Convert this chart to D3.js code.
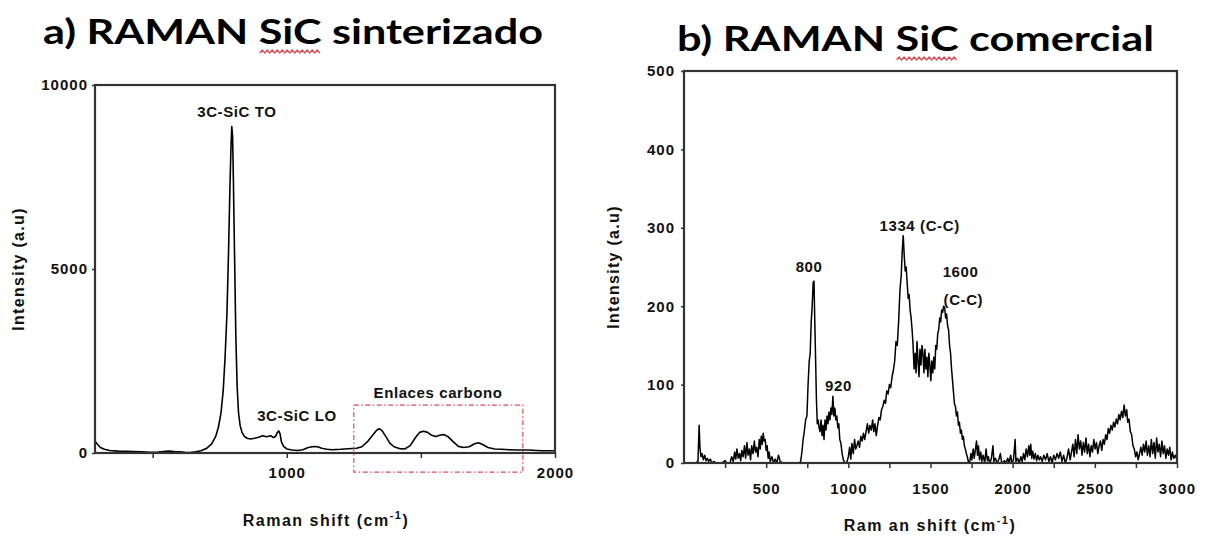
<!DOCTYPE html>
<html>
<head>
<meta charset="utf-8">
<script src="https://cdn.jsdelivr.net/npm/d3@7"></script>
<style>
  body { margin: 0; background: #fff; }
  svg { display: block; }
  text { font-family: "Liberation Sans", Arial, sans-serif; }
</style>
</head>
<body>
<svg id="chart" width="1206" height="538"></svg>
<script>
// ---- Spectrum a: sintered SiC, [Raman shift cm-1, intensity a.u.] ----
const sinterizadoSpectrum = [
  [285,320],[295,230],[305,150],[320,100],[340,70],[370,50],[400,45],[430,40],[460,30],[490,20],
  [520,25],[540,40],[560,55],[580,40],[600,30],[620,20],[640,15],[660,30],[680,60],[700,120],
  [720,250],[735,450],[745,700],[755,1100],[763,1700],[770,2600],[777,3800],[783,5500],[788,7200],
  [792,8300],[795,8870],[798,8600],[801,7400],[805,5500],[810,3200],[815,1800],[820,1100],[826,750],
  [833,560],[842,450],[852,400],[865,380],[880,400],[895,430],[910,470],[925,440],[940,470],[950,420],
  [958,450],[965,560],[970,600],[975,520],[980,300],[988,180],[1000,110],[1020,80],[1040,70],[1060,90],
  [1080,150],[1100,175],[1115,170],[1130,130],[1150,100],[1170,90],[1200,100],[1230,115],[1260,130],
  [1280,170],[1300,300],[1320,480],[1335,620],[1345,660],[1355,610],[1370,440],[1385,260],[1400,170],
  [1420,120],[1440,110],[1460,200],[1480,420],[1495,560],[1510,590],[1525,560],[1540,480],[1555,450],
  [1570,480],[1585,500],[1600,450],[1620,310],[1640,180],[1660,150],[1680,170],[1700,250],[1715,280],
  [1730,230],[1750,150],[1775,110],[1800,100],[1830,90],[1860,80],[1900,80],[1950,60],[2000,60]
];

// ---- Spectrum b: commercial SiC, [Raman shift cm-1, intensity a.u.] ----
const comercialSpectrum = [
  [70,0],[85,2],[92,48],[97,20],[103,8],[110,12],[118,4],[126,10],[134,3],[142,6],[150,2],[160,5],
  [170,0],[180,2],[195,0],[230,0],[250,3],[260,0],[280,0],[290,8],[300,2],[308,14],[315,5],[322,18],
  [330,6],[338,12],[345,3],[352,16],[360,8],[368,22],[375,6],[383,26],[390,10],[398,18],[405,4],
  [412,22],[420,12],[428,28],[435,14],[442,20],[450,8],[458,30],[464,18],[470,34],[476,24],[482,38],
  [488,28],[494,30],[500,16],[506,22],[512,6],[518,14],[525,2],[535,8],[545,0],[555,5],[565,0],
  [575,10],[585,2],[600,0],[700,0],[710,2],[718,15],[725,30],[732,40],[740,55],[748,60],[755,100],
  [762,130],[768,140],[774,180],[780,200],[786,230],[791,232],[796,180],[801,130],[806,80],[811,50],
  [816,55],[822,45],[828,40],[834,55],[840,35],[846,48],[852,30],[858,55],[864,42],[870,60],[876,50],
  [882,65],[888,55],[894,70],[900,62],[906,85],[912,60],[918,70],[924,55],[930,60],[936,45],[942,50],
  [948,30],[955,25],[962,12],[970,4],[980,0],[990,0],[1000,8],[1008,20],[1015,5],[1022,25],[1030,12],
  [1038,30],[1045,18],[1052,22],[1060,28],[1068,20],[1076,34],[1084,28],[1092,38],[1100,30],[1108,40],
  [1116,50],[1124,38],[1132,48],[1140,42],[1148,55],[1155,40],[1162,50],[1170,35],[1178,48],[1186,58],
  [1194,55],[1202,68],[1210,72],[1218,80],[1226,76],[1234,92],[1242,88],[1250,100],[1258,96],
  [1266,110],[1274,118],[1282,130],[1290,155],[1298,150],[1306,180],[1314,220],[1322,240],[1328,270],
  [1334,290],[1340,265],[1346,245],[1352,250],[1358,230],[1364,210],[1370,215],[1376,195],[1382,185],
  [1388,170],[1394,150],[1400,120],[1406,140],[1412,115],[1418,155],[1424,130],[1430,110],[1436,145],
  [1442,125],[1448,150],[1454,140],[1460,115],[1466,145],[1472,120],[1478,135],[1484,110],[1490,140],
  [1496,125],[1502,105],[1508,130],[1514,115],[1520,135],[1526,120],[1532,150],[1538,145],[1544,165],
  [1550,170],[1556,185],[1562,180],[1568,195],[1574,192],[1580,200],[1586,198],[1592,185],[1598,190],
  [1604,175],[1610,170],[1616,150],[1622,140],[1628,120],[1634,105],[1640,90],[1646,75],[1652,72],
  [1658,60],[1664,65],[1670,48],[1676,52],[1682,38],[1688,42],[1694,30],[1700,34],[1706,22],[1712,18],
  [1718,12],[1724,8],[1730,2],[1738,0],[1746,12],[1752,4],[1760,18],[1766,6],[1772,15],[1780,28],
  [1786,10],[1792,22],[1798,4],[1806,14],[1812,2],[1820,10],[1830,0],[1838,18],[1846,3],[1852,8],
  [1860,0],[1870,5],[1880,22],[1886,2],[1895,6],[1905,0],[1915,4],[1925,12],[1932,2],[1940,0],
  [1950,3],[1960,0],[1970,6],[1978,0],[1988,10],[1995,0],[2005,4],[2015,30],[2020,2],[2030,6],
  [2040,0],[2050,8],[2058,2],[2066,12],[2074,4],[2082,18],[2090,8],[2098,22],[2104,10],[2110,24],
  [2116,6],[2122,15],[2130,5],[2138,12],[2146,3],[2154,10],[2162,4],[2170,8],[2180,2],[2190,10],
  [2200,4],[2210,12],[2220,2],[2230,8],[2240,0],[2250,10],[2260,4],[2270,12],[2280,6],[2290,14],
  [2300,2],[2310,10],[2320,0],[2330,6],[2340,18],[2350,4],[2358,14],[2366,24],[2374,8],[2382,30],
  [2390,12],[2398,36],[2406,18],[2414,28],[2422,10],[2430,26],[2438,14],[2446,32],[2454,12],[2462,24],
  [2470,8],[2478,22],[2486,14],[2494,30],[2502,18],[2510,26],[2518,12],[2526,22],[2534,28],[2542,16],
  [2550,30],[2558,24],[2566,36],[2574,30],[2582,44],[2590,38],[2598,48],[2606,42],[2614,52],[2622,46],
  [2630,56],[2638,50],[2646,62],[2654,55],[2662,66],[2670,58],[2678,74],[2686,60],[2694,68],[2700,52],
  [2708,56],[2716,40],[2724,36],[2732,22],[2740,18],[2748,8],[2756,14],[2764,4],[2772,12],[2780,20],
  [2788,10],[2796,24],[2804,14],[2812,28],[2820,10],[2828,22],[2836,8],[2844,30],[2852,12],[2860,26],
  [2868,6],[2876,32],[2884,14],[2892,24],[2900,8],[2908,28],[2916,12],[2924,22],[2932,6],[2940,18],
  [2948,10],[2956,20],[2964,4],[2972,14],[2980,6],[2990,10],[3000,4]
];

// ---- Axes: tick positions and which of them carry a label ----
const xTicksA = [500, 1000, 1500, 2000];
const xLabelsA = [1000, 2000];
const yTicksA = [0, 5000, 10000];
const xTicksB = [250, 500, 750, 1000, 1250, 1500, 1750, 2000, 2250, 2500, 2750, 3000];
const xLabelsB = [500, 1000, 1500, 2000, 2500, 3000];
const yTicksB = [0, 100, 200, 300, 400, 500];

// ---- Peak annotations (data coordinates) ----
const peaksA = [
  { text: "3C-SiC TO", x: 814, y: 9270 },
  { text: "3C-SiC LO", x: 1038, y: 1000 },
  { text: "Enlaces carbono", x: 1564, y: 1630 }
];
const carbonBoxA = { x0: 1250, x1: 1880, y0: -520, y1: 1300 };
const peaksB = [
  { text: "800", x: 761, y: 250 },
  { text: "920", x: 940, y: 98 },
  { text: "1334 (C-C)", x: 1434, y: 303 },
  { text: "1600", x: 1683, y: 244 },
  { text: "(C-C)", x: 1700, y: 208 }
];

const svg = d3.select("#chart");
const INK = "#111";

// Title with the red spell-check squiggle under "SiC"
function drawTitle(parts, x, y, width) {
  const t = svg.append("text")
    .attr("x", x).attr("y", y)
    .attr("textLength", width).attr("lengthAdjust", "spacingAndGlyphs")
    .style("font-family", "Lato, 'Open Sans', sans-serif")
    .style("font-weight", "bold").style("font-size", "35px").attr("fill", "#000");
  parts.forEach(p => t.append("tspan").text(p));
  const node = t.node();
  const start = parts[0].length;
  const end = start + parts[1].length - 1;
  const sx = node.getStartPositionOfChar(start).x + 1;
  const ex = node.getEndPositionOfChar(end).x - 1;
  let d = `M${sx},${y + 9}`;
  let up = true;
  for (let px = sx + 2.5; px <= ex; px += 2.5) {
    d += `L${px},${y + (up ? 6 : 9)}`;
    up = !up;
  }
  svg.append("path").attr("d", d).attr("fill", "none")
    .attr("stroke", "#e8454f").attr("stroke-width", 1.2);
}

function styleAxisText(g) {
  g.select(".domain").remove();
  g.selectAll(".tick line").attr("stroke", "#333").attr("stroke-width", 1.5);
  g.selectAll(".tick text")
    .style("font-size", "15px").style("font-weight", "bold")
    .style("letter-spacing", "1px").attr("fill", INK);
}

function drawPanel(cfg) {
  const x = d3.scaleLinear().domain(cfg.xDomain).range([cfg.left, cfg.right]);
  const y = d3.scaleLinear().domain(cfg.yDomain).range([cfg.bottom, cfg.top]);
  const g = svg.append("g");

  // spectrum
  g.append("path")
    .datum(cfg.data)
    .attr("fill", "none")
    .attr("stroke", "#000")
    .attr("stroke-width", cfg.lineWidth)
    .attr("stroke-linejoin", "round")
    .attr("d", d3.line().x(d => x(d[0])).y(d => y(d[1])));

  // axes
  g.append("g")
    .attr("transform", `translate(0,${cfg.bottom})`)
    .call(d3.axisBottom(x).tickValues(cfg.xTicks)
      .tickFormat(d => cfg.xLabels.includes(d) ? String(d) : "")
      .tickSize(5).tickPadding(cfg.xPad).tickSizeOuter(0))
    .call(styleAxisText);
  g.append("g")
    .attr("transform", `translate(${cfg.left},0)`)
    .call(d3.axisLeft(y).tickValues(cfg.yTicks)
      .tickFormat(d => String(d))
      .tickSize(3).tickPadding(cfg.yPad).tickSizeOuter(0))
    .call(styleAxisText);

  // frame
  g.append("rect")
    .attr("x", cfg.left).attr("y", cfg.top)
    .attr("width", cfg.right - cfg.left).attr("height", cfg.bottom - cfg.top)
    .attr("fill", "none").attr("stroke", "#333").attr("stroke-width", 2.2);

  // axis titles
  g.append("text")
    .attr("transform", `translate(${cfg.yLabelX},${(cfg.top + cfg.bottom) / 2}) rotate(-90)`)
    .attr("text-anchor", "middle")
    .style("font-size", "16px").style("font-weight", "bold").style("letter-spacing", "1.3px")
    .attr("fill", INK)
    .text("Intensity (a.u)");
  const xl = g.append("text")
    .attr("x", cfg.xLabelX).attr("y", cfg.xLabelY)
    .attr("text-anchor", "middle")
    .style("font-size", "16px").style("font-weight", "bold").style("letter-spacing", "1.5px")
    .attr("fill", INK);
  xl.append("tspan").text(cfg.xLabelText);
  xl.append("tspan").attr("dy", -7).style("font-size", "11px").text("-1");
  xl.append("tspan").attr("dy", 7).text(")");

  // peak labels
  g.selectAll("text.peak")
    .data(cfg.peaks)
    .join("text")
    .attr("class", "peak")
    .attr("x", d => x(d.x)).attr("y", d => y(d.y))
    .attr("dy", "0.35em")
    .attr("text-anchor", "middle")
    .style("font-size", "15px").style("font-weight", "bold").style("letter-spacing", "0.6px")
    .attr("fill", INK)
    .text(d => d.text);

  return { x, y, g };
}

// Panel a
drawTitle(["a) RAMAN ", "SiC", " sinterizado"], 43, 44, 500);
const pA = drawPanel({
  data: sinterizadoSpectrum, xDomain: [285, 2000], yDomain: [0, 10000],
  left: 95, right: 555, top: 85, bottom: 453, lineWidth: 1.6,
  xTicks: xTicksA, xLabels: xLabelsA, yTicks: yTicksA, xPad: 9, yPad: 4,
  yLabelX: 24, xLabelX: 326, xLabelY: 526, xLabelText: "Raman shift (cm",
  peaks: peaksA
});
pA.g.append("rect")
  .attr("x", pA.x(carbonBoxA.x0)).attr("y", pA.y(carbonBoxA.y1))
  .attr("width", pA.x(carbonBoxA.x1) - pA.x(carbonBoxA.x0))
  .attr("height", pA.y(carbonBoxA.y0) - pA.y(carbonBoxA.y1))
  .attr("fill", "none").attr("stroke", "#dc4a5e").attr("stroke-width", 1.2)
  .attr("stroke-dasharray", "5,2.5,1.5,2.5");

// Panel b
drawTitle(["b) RAMAN ", "SiC", " comercial"], 677, 51, 477);
drawPanel({
  data: comercialSpectrum, xDomain: [0, 3000], yDomain: [0, 500],
  left: 684, right: 1177, top: 71, bottom: 463, lineWidth: 1.5,
  xTicks: xTicksB, xLabels: xLabelsB, yTicks: yTicksB, xPad: 15, yPad: 6,
  yLabelX: 619, xLabelX: 930, xLabelY: 531, xLabelText: "Ram an shift (cm",
  peaks: peaksB
});
</script>
</body>
</html>
